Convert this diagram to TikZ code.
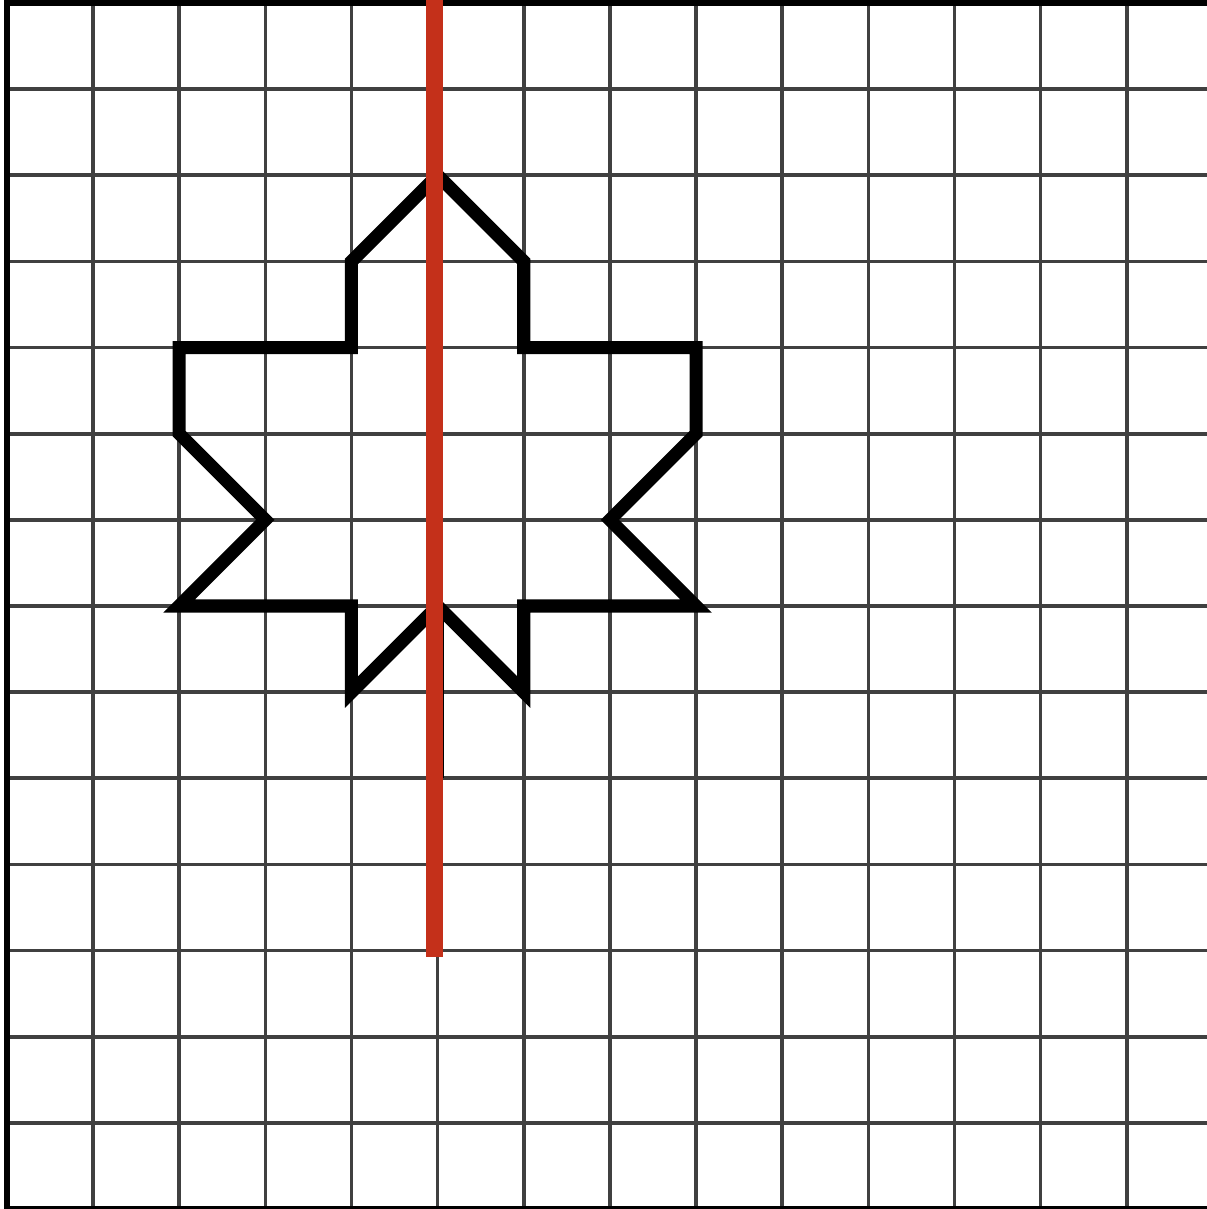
\documentclass[tikz,border=0pt]{standalone}
\definecolor{mirrorred}{RGB}{196,48,26}
\newcommand*{\xmin}{-0.08}
\newcommand*{\xmax}{13.93}
\newcommand*{\ymin}{0}
\newcommand*{\ymax}{14.035}
\begin{document}
\begin{tikzpicture}
[
	gridline/.style={black!75,line width=1.2pt},
	frameline/.style={black,line width=2.2pt},
	leafline/.style={black,line width=4.3pt},
	mirror/.style={mirrorred,line width=5.6pt}
]
	\useasboundingbox (\xmin,\ymin) rectangle (\xmax,\ymax);

	% grid
	\draw[gridline] (0,0) grid (14,14);
	\draw[frameline] (0,0) -- (0,14) -- (14,14);
	\draw[frameline] (0,0) -- (14,0);

	% leaf
	\draw[leafline] (5,12) -- (4,11) -- (4,10) -- (2,10) -- (2,9) -- (3,8) -- (2,7)
		-- (4,7) -- (4,6) -- (5,7) -- (6,6) -- (6,7) -- (8,7) -- (7,8) -- (8,9)
		-- (8,10) -- (6,10) -- (6,11) -- cycle;
	\draw[leafline] (5,7) -- (5,5);

	% line of symmetry
	\draw[mirror] (4.96,14.1) -- (4.96,2.93);

\end{tikzpicture}
\end{document}
